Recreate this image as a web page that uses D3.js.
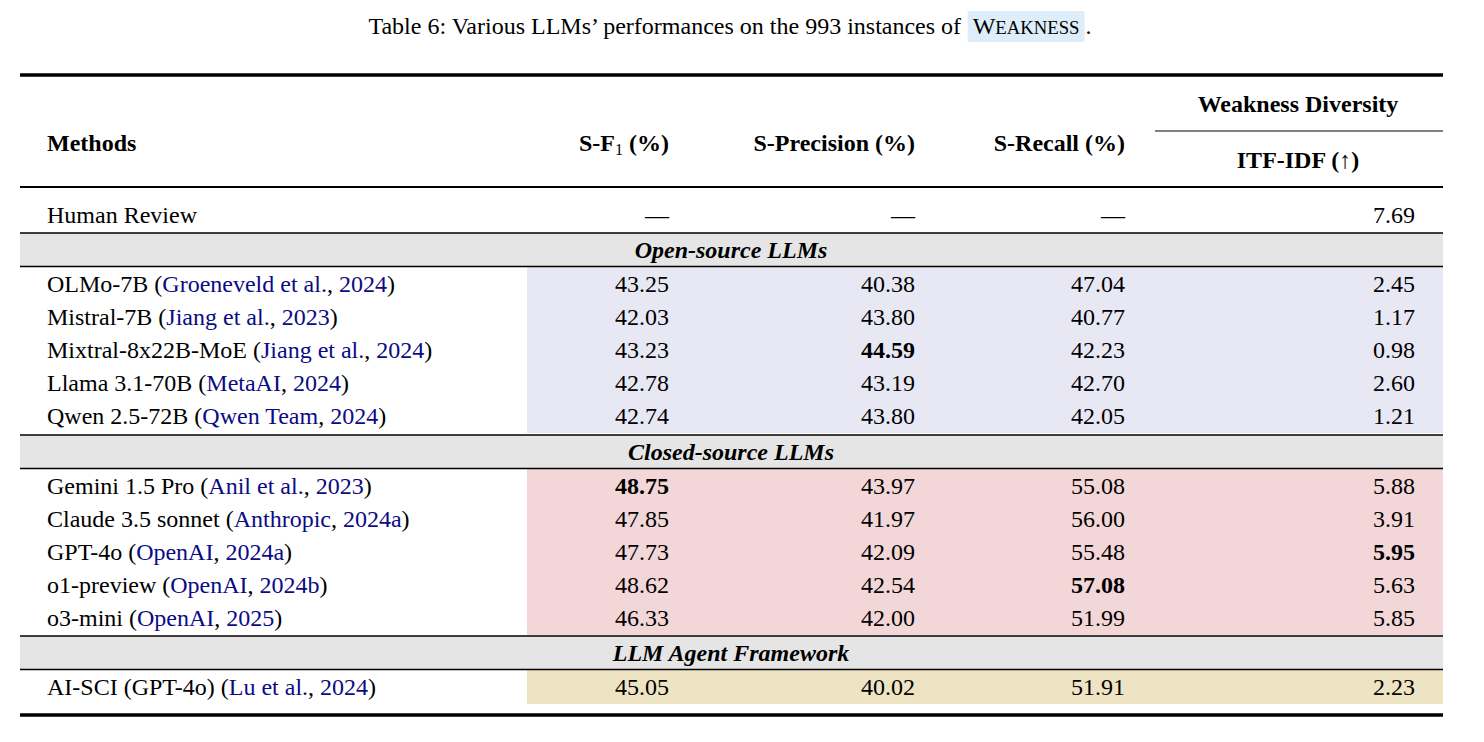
<!DOCTYPE html>
<html>
<head>
<meta charset="utf-8">
<script src="https://cdn.jsdelivr.net/npm/d3@7"></script>
<style>
  body { margin: 0; background: #fff; }
  text { font-family: "Times New Roman", Times, "Liberation Serif", serif; }
</style>
</head>
<body>
<svg id="chart"></svg>
<script>
// table data
const groups = ["Open-source LLMs", "Closed-source LLMs", "LLM Agent Framework"];
const methodNames = [
  "OLMo-7B", "Mistral-7B", "Mixtral-8x22B-MoE", "Llama 3.1-70B", "Qwen 2.5-72B",
  "Gemini 1.5 Pro", "Claude 3.5 sonnet", "GPT-4o", "o1-preview", "o3-mini",
  "AI-SCI (GPT-4o)"
];
const citeAuthors = [
  "Groeneveld et al.", "Jiang et al.", "Jiang et al.", "MetaAI", "Qwen Team",
  "Anil et al.", "Anthropic", "OpenAI", "OpenAI", "OpenAI", "Lu et al."
];
const citeYears = ["2024", "2023", "2024", "2024", "2024", "2023", "2024a", "2024a", "2024b", "2025", "2024"];
const rowGroup = [0, 0, 0, 0, 0, 1, 1, 1, 1, 1, 2];
const sF1 =        ["43.25", "42.03", "43.23", "42.78", "42.74", "48.75", "47.85", "47.73", "48.62", "46.33", "45.05"];
const sPrecision = ["40.38", "43.80", "44.59", "43.19", "43.80", "43.97", "41.97", "42.09", "42.54", "42.00", "40.02"];
const sRecall =    ["47.04", "40.77", "42.23", "42.70", "42.05", "55.08", "56.00", "55.48", "57.08", "51.99", "51.91"];
const itfIdf =     ["2.45", "1.17", "0.98", "2.60", "1.21", "5.88", "3.91", "5.95", "5.63", "5.85", "2.23"];
const humanRow = ["Human Review", "—", "—", "—", "7.69"];
// bold cells: [row, col]
const boldCells = [[2, 1], [5, 0], [7, 3], [8, 2]];

const width = 1484, height = 742;
const svg = d3.select("#chart").attr("width", width).attr("height", height);

const left = 20, right = 1443;
const colRight = [669, 915, 1125, 1415];
const groupFill = ["#e8e8f4", "#f2d6d8", "#eee3c2"];
const citeColor = "#0b0b85";
const fs = 24;

// title
const title = svg.append("text").attr("x", 730).attr("y", 34)
  .attr("text-anchor", "middle").style("font-size", fs + "px");
title.append("tspan").text("Table 6: Various LLMs’ performances on the 993 instances of ");
const tBox = svg.append("rect").attr("fill", "#ddeefa");
const wk = title.append("tspan").attr("dx", 6);
wk.append("tspan").text("W");
wk.append("tspan").style("font-size", (fs * 0.78) + "px").text("EAKNESS");
title.append("tspan").attr("dx", 6).text(".");
// place highlight behind WEAKNESS
const wkNode = wk.node();
const n0 = wkNode.getStartPositionOfChar(0).x;
const bb = wkNode.getBBox();
tBox.attr("x", n0 - 5).attr("y", 11).attr("width", bb.width + 10).attr("height", 31);
tBox.lower();

// rules
function rule(y, w, x1 = left, x2 = right) {
  svg.append("line").attr("x1", x1).attr("x2", x2).attr("y1", y).attr("y2", y)
    .attr("stroke", "#000").attr("stroke-width", w);
}

// header
const header = svg.append("g").style("font-weight", "bold").style("font-size", fs + "px");
header.append("text").attr("x", 47).attr("y", 151).text("Methods");
const f1h = header.append("text").attr("x", colRight[0]).attr("y", 151).attr("text-anchor", "end");
f1h.append("tspan").text("S-F");
f1h.append("tspan").attr("dy", 4).style("font-size", "16px").style("font-weight", "normal").text("1");
f1h.append("tspan").attr("dy", -4).text(" (%)");
header.append("text").attr("x", colRight[1]).attr("y", 151).attr("text-anchor", "end").text("S-Precision (%)");
header.append("text").attr("x", colRight[2]).attr("y", 151).attr("text-anchor", "end").text("S-Recall (%)");
header.append("text").attr("x", 1298).attr("y", 112).attr("text-anchor", "middle").text("Weakness Diversity");
header.append("text").attr("x", 1298).attr("y", 168).attr("text-anchor", "middle").text("ITF-IDF (↑)");

// row layout
const rowH = 33;
const yHuman = 215;
const groupStart = [233, 435, 636];
const rowsY = [];
let gi = -1, cur = 0;
rowGroup.forEach((g, i) => {
  if (g !== gi) { gi = g; cur = groupStart[g] + rowH + 1; }
  rowsY.push(cur + rowH / 2);
  cur += rowH;
});

// group bands (gray group header + colored value cells)
groups.forEach((g, k) => {
  const idx = rowGroup.map((r, i) => r === k ? i : -1).filter(i => i >= 0);
  const y0 = groupStart[k];
  svg.append("rect").attr("x", left).attr("y", y0).attr("width", right - left).attr("height", rowH)
    .attr("fill", "#e5e5e5");
  const yTop = y0 + rowH + 1;
  const yBot = rowsY[idx[idx.length - 1]] + rowH / 2 + 1;
  svg.append("rect").attr("x", 527).attr("y", yTop).attr("width", right - 527).attr("height", yBot - yTop)
    .attr("fill", groupFill[k]);
  svg.append("text").attr("x", 731).attr("y", y0 + rowH / 2 + 8).attr("text-anchor", "middle")
    .style("font-size", fs + "px").style("font-weight", "bold").style("font-style", "italic").text(g);
  rule(y0, 1.5);
  rule(y0 + rowH + 0.5, 1.5);
});

rule(75, 3.5);
rule(131, 1.2, 1155, right);
rule(187, 2.2);
rule(715, 3.5);

// human row
svg.append("text").attr("x", 47).attr("y", yHuman + 8).style("font-size", fs + "px").text(humanRow[0]);
humanRow.slice(1).forEach((v, c) => {
  svg.append("text").attr("x", colRight[c]).attr("y", yHuman + 8).attr("text-anchor", "end")
    .style("font-size", fs + "px").text(v);
});

// method rows
const cols = [sF1, sPrecision, sRecall, itfIdf];
methodNames.forEach((m, i) => {
  const y = rowsY[i] + 8;
  const t = svg.append("text").attr("x", 47).attr("y", y).style("font-size", fs + "px");
  t.append("tspan").text(m + " (");
  t.append("tspan").attr("fill", citeColor).text(citeAuthors[i]);
  t.append("tspan").text(", ");
  t.append("tspan").attr("fill", citeColor).text(citeYears[i]);
  t.append("tspan").text(")");
  cols.forEach((col, c) => {
    const bold = boldCells.some(b => b[0] === i && b[1] === c);
    svg.append("text").attr("x", colRight[c]).attr("y", y).attr("text-anchor", "end")
      .style("font-size", fs + "px").style("font-weight", bold ? "bold" : "normal").text(col[i]);
  });
});
</script>
</body>
</html>
